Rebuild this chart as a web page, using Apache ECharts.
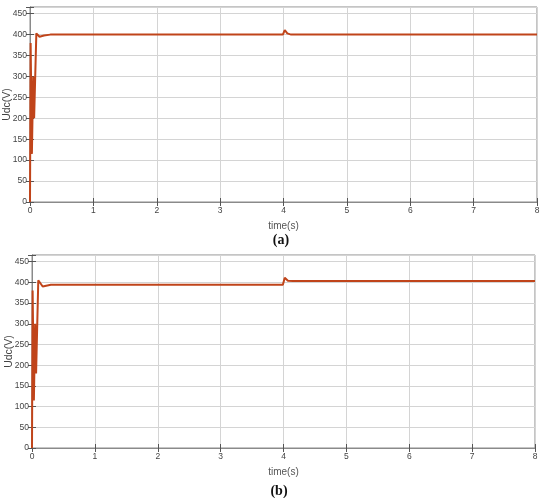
<!DOCTYPE html>
<html>
<head>
<meta charset="utf-8">
<script src="https://cdn.jsdelivr.net/npm/echarts@6/dist/echarts.min.js"></script>
<style>
  html, body { margin: 0; padding: 0; background: #ffffff; }
  #chart { width: 550px; height: 498px; }
</style>
</head>
<body>
<div id="chart"></div>
<script>
// (a) Udc vs time
const timeA = [0, 0.01, 0.03, 0.05, 0.065, 0.1, 0.15, 0.22, 0.32, 3.99, 4.02, 4.06, 4.12, 8]
const udcA = [0, 380, 115, 300, 200, 403, 395, 398, 400, 400, 411, 403, 400, 400]
// (b) Udc vs time
const timeB = [0, 0.01, 0.03, 0.05, 0.065, 0.1, 0.17, 0.3, 3.99, 4.02, 4.07, 4.15, 8]
const udcB = [0, 380, 115, 300, 180, 405, 390, 394, 394, 411, 404, 403, 403]

const xTicks = [0, 1, 2, 3, 4, 5, 6, 7, 8]
const yTicks = [0, 50, 100, 150, 200, 250, 300, 350, 400, 450]

const lineColor = '#c0441a'
const gridColor = '#d4d4d4'
const frameColor = '#8a8a8a'
const labelFont = { color: '#444', fontSize: 8.5, fontFamily: 'Liberation Sans' }

function pairs (xs, ys) {
    return xs.map((x, i) => [x, ys[i]])
}

function xAxisFor (gridIndex, bottom) {
    return {
        type: 'value',
        gridIndex: gridIndex,
        position: bottom ? 'bottom' : 'top',
        min: xTicks[0],
        max: xTicks[xTicks.length - 1],
        interval: 1,
        name: bottom ? 'time(s)' : '',
        nameLocation: 'middle',
        nameGap: 19,
        nameMoveOverlap: false,
        nameTextStyle: { color: '#555', fontSize: 10, fontFamily: 'Liberation Sans' },
        axisLine: { show: true, lineStyle: { color: frameColor } },
        axisTick: { show: true, inside: true, length: 4, lineStyle: { color: '#555' } },
        axisLabel: Object.assign({ show: bottom, margin: 4 }, labelFont),
        splitLine: { show: bottom, lineStyle: { color: gridColor, width: 1 } }
    }
}

function yAxisFor (gridIndex, left) {
    return {
        type: 'value',
        gridIndex: gridIndex,
        position: left ? 'left' : 'right',
        min: 0,
        max: 466,
        interval: 50,
        name: left ? 'Udc(V)' : '',
        nameLocation: 'middle',
        nameGap: 17,
        nameMoveOverlap: false,
        nameTextStyle: { color: '#444', fontSize: 10.5, fontFamily: 'Liberation Sans' },
        axisLine: { show: true, lineStyle: { color: frameColor } },
        axisTick: { show: true, inside: true, length: 4, lineStyle: { color: '#555' } },
        axisLabel: Object.assign({
            show: left,
            margin: 3,
            formatter: function (v) { return yTicks.indexOf(v) >= 0 ? String(v) : '' }
        }, labelFont),
        splitLine: { show: left, lineStyle: { color: gridColor, width: 1 } }
    }
}

const chart = echarts.init(document.getElementById('chart'))
chart.setOption({
    animation: false,
    backgroundColor: '#ffffff',
    grid: [
        { left: 30, right: 13, top: 7, height: 195, show: true, borderColor: frameColor, borderWidth: 1,
            containLabel: false, outerBoundsMode: 'none' },
        { left: 32, right: 15, top: 255, height: 193, show: true, borderColor: frameColor, borderWidth: 1,
            containLabel: false, outerBoundsMode: 'none' }
    ],
    xAxis: [xAxisFor(0, true), xAxisFor(0, false), xAxisFor(1, true), xAxisFor(1, false)],
    yAxis: [yAxisFor(0, true), yAxisFor(0, false), yAxisFor(1, true), yAxisFor(1, false)],
    title: [
        { text: '(a)', left: 276, top: 228, textAlign: 'center',
            textStyle: { fontFamily: 'Liberation Serif', fontWeight: 'bold', fontSize: 14, color: '#111' } },
        { text: '(b)', left: 274, top: 479, textAlign: 'center',
            textStyle: { fontFamily: 'Liberation Serif', fontWeight: 'bold', fontSize: 14, color: '#111' } }
    ],
    series: [
        {
            type: 'line',
            xAxisIndex: 0,
            yAxisIndex: 0,
            data: pairs(timeA, udcA),
            showSymbol: false,
            lineStyle: { color: lineColor, width: 2 }
        },
        {
            type: 'line',
            xAxisIndex: 2,
            yAxisIndex: 2,
            data: pairs(timeB, udcB),
            showSymbol: false,
            lineStyle: { color: lineColor, width: 2 }
        }
    ]
})
</script>
</body>
</html>
